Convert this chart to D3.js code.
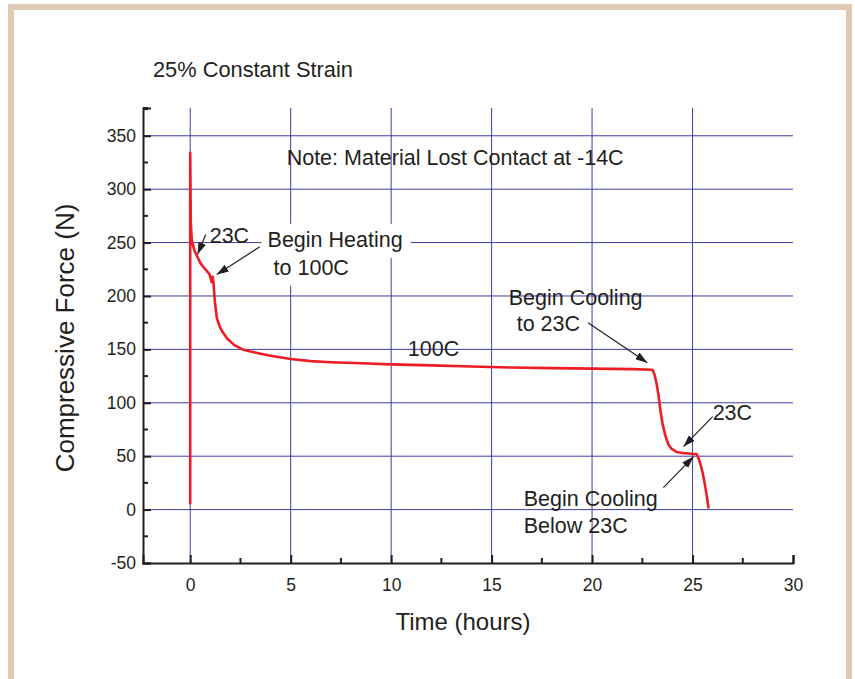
<!DOCTYPE html>
<html>
<head>
<meta charset="utf-8">
<script src="https://cdn.jsdelivr.net/npm/d3@7"></script>
<style>
  html, body { margin: 0; padding: 0; background: #ffffff; }
  svg { display: block; font-family: "Liberation Sans", Arial, Helvetica, sans-serif; }
</style>
</head>
<body>
<svg id="chart" width="855" height="679"></svg>
<script>
// ---- data ----
const timeHours = [0, 0, 0.03, 0.08, 0.2, 0.35, 0.5, 0.7, 0.85, 0.97, 1.07, 1.12, 1.16, 1.22, 1.32, 1.45, 1.62, 1.85, 2.2, 2.6, 3.0, 3.5, 4.0, 5.0, 6.0, 7.0, 8.5, 10, 12, 14, 16, 18, 20, 22, 23.0, 23.1, 23.2, 23.3, 23.4, 23.5, 23.65, 23.8, 23.95, 24.2, 24.5, 24.8, 25.05, 25.2, 25.3, 25.4, 25.5, 25.6, 25.7, 25.8];
const forceN    = [5, 334, 268, 252, 243, 237, 231, 226, 223, 220, 213, 218, 212, 196, 180, 172, 166, 160, 154, 150, 148, 146, 144, 141, 139, 138, 137, 136, 135, 134, 133, 132.5, 132, 131.5, 131, 127, 119, 108, 93, 81, 69, 61, 57, 54, 53, 52.5, 52, 52, 48, 42, 35, 25, 14, 1];

const xTicks = [0, 5, 10, 15, 20, 25, 30];
const yTicks = [-50, 0, 50, 100, 150, 200, 250, 300, 350];
const xGrid = [0, 5, 10, 15, 20, 25];
const yGrid = [0, 50, 100, 150, 200, 250, 300, 350];

const titleText = "25% Constant Strain";
const xLabel = "Time (hours)";
const yLabel = "Compressive Force (N)";

// annotations (data coordinates)
const notes = [
  { text: "Note: Material Lost Contact at -14C", t: 4.8, v: 323 },
  { text: "23C", t: 0.97, v: 250 },
  { text: "Begin Heating", t: 3.85, v: 246, bg: true },
  { text: "to 100C", t: 4.15, v: 220, bg: true },
  { text: "Begin Cooling", t: 15.85, v: 192 },
  { text: "to 23C", t: 16.25, v: 167 },
  { text: "100C", t: 10.83, v: 144 },
  { text: "23C", t: 26.0, v: 84 },
  { text: "Begin Cooling", t: 16.6, v: 3 },
  { text: "Below 23C", t: 16.6, v: -22 }
];
const arrows = [
  { t1: 0.77, v1: 257.5, t2: 0.37, v2: 239 },
  { t1: 3.46, v1: 246, t2: 1.32, v2: 220 },
  { t1: 19.8, v1: 175, t2: 22.75, v2: 137.6 },
  { t1: 26.0, v1: 87, t2: 24.55, v2: 59 },
  { t1: 23.55, v1: 20.6, t2: 25.05, v2: 49.6 }
];

// ---- layout ----
const svg = d3.select("#chart");
const x = d3.scaleLinear().domain([-2.35, 30]).range([143, 793]);
const y = d3.scaleLinear().domain([-50, 376]).range([563, 108]);
const ink = "#231f20";

// frame
svg.append("rect").attr("x", 11).attr("y", 7).attr("width", 838).attr("height", 720)
  .attr("fill", "none").attr("stroke", "#dfcbb3").attr("stroke-width", 6);

const gridColor = "#3d3da6";
// grid
svg.append("g").selectAll("line").data(yGrid).join("line")
  .attr("x1", x.range()[0]).attr("x2", x.range()[1])
  .attr("y1", d => y(d)).attr("y2", d => y(d))
  .attr("stroke", gridColor).attr("stroke-width", 1);
svg.append("g").selectAll("line").data(xGrid).join("line")
  .attr("x1", d => x(d)).attr("x2", d => x(d))
  .attr("y1", y.range()[0]).attr("y2", y.range()[1])
  .attr("stroke", gridColor).attr("stroke-width", 1);

// notes (some with white boxes behind)
const fs = 21.5;
const noteG = svg.append("g").attr("font-size", fs).attr("fill", ink);
notes.forEach(n => {
  const t = noteG.append("text").attr("x", x(n.t)).attr("y", y(n.v)).text(n.text);
  if (n.bg) {
    const b = t.node().getBBox();
    noteG.insert("rect", "text").attr("x", b.x - 6).attr("y", b.y - 4)
      .attr("width", b.width + 14).attr("height", b.height + 10).attr("fill", "#fff");
  }
});

// axes
const fmt = d => String(d);
const xAxis = d3.axisBottom(x).tickValues(xTicks).tickSize(-8).tickPadding(16).tickFormat(fmt);
const yAxis = d3.axisLeft(y).tickValues(yTicks).tickSize(-8).tickPadding(7).tickFormat(fmt);

const gx = svg.append("g").attr("transform", `translate(0,${y(-50)})`).call(xAxis);
const gy = svg.append("g").attr("transform", `translate(${x(-2.35)},0)`).call(yAxis);
[gx, gy].forEach(g => {
  g.select(".domain").attr("stroke", ink).attr("stroke-width", 2);
  g.selectAll(".tick line").attr("stroke", ink).attr("stroke-width", 2);
  g.selectAll(".tick text").attr("font-size", 17.5).attr("fill", ink)
    .attr("font-family", "Liberation Sans, Arial, sans-serif");
});
// minor ticks
const xMinor = d3.range(2.5, 30, 5);
const yMinor = d3.range(-25, 376, 50);
svg.append("g").selectAll("line").data(xMinor).join("line")
  .attr("x1", d => x(d)).attr("x2", d => x(d))
  .attr("y1", y(-50)).attr("y2", y(-50) - 5)
  .attr("stroke", ink).attr("stroke-width", 2);
svg.append("g").selectAll("line").data(yMinor).join("line")
  .attr("x1", x(-2.35)).attr("x2", x(-2.35) + 5)
  .attr("y1", d => y(d)).attr("y2", d => y(d))
  .attr("stroke", ink).attr("stroke-width", 2);
svg.append("line").attr("x1", x(-2.35)).attr("x2", x(-2.35) + 5)
  .attr("y1", y(376)).attr("y2", y(376)).attr("stroke", ink).attr("stroke-width", 2);

// curve
const line = d3.line().x((d, i) => x(timeHours[i])).y(d => y(d));
svg.append("path").attr("d", line(forceN)).attr("fill", "none")
  .attr("stroke", "#ee1c25").attr("stroke-width", 2.6).attr("stroke-linejoin", "round");

// arrows
const defs = svg.append("defs");
defs.append("marker").attr("id", "ah").attr("viewBox", "0 0 12 8")
  .attr("refX", 12).attr("refY", 4).attr("markerWidth", 12).attr("markerHeight", 8)
  .attr("markerUnits", "userSpaceOnUse").attr("orient", "auto")
  .append("path").attr("d", "M0,0 L12,4 L0,8 Z").attr("fill", ink);
svg.append("g").selectAll("line").data(arrows).join("line")
  .attr("x1", d => x(d.t1)).attr("y1", d => y(d.v1))
  .attr("x2", d => x(d.t2)).attr("y2", d => y(d.v2))
  .attr("stroke", ink).attr("stroke-width", 1.2).attr("marker-end", "url(#ah)");

// titles
svg.append("text").attr("x", 153).attr("y", 77).attr("font-size", 21.8).attr("fill", ink).text(titleText);
svg.append("text").attr("x", 463).attr("y", 630).attr("text-anchor", "middle")
  .attr("font-size", 24).attr("fill", ink).text(xLabel);
svg.append("text").attr("transform", `translate(74,338) rotate(-90)`)
  .attr("text-anchor", "middle").attr("font-size", 26).attr("fill", ink).text(yLabel);
</script>
</body>
</html>
